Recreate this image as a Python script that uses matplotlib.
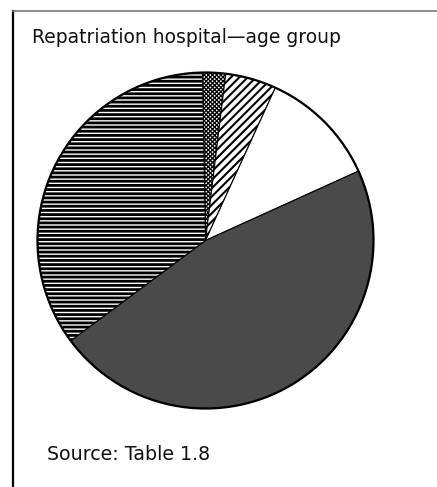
import matplotlib.pyplot as plt
from matplotlib.lines import Line2D
from matplotlib.patches import Circle

# age groups, clockwise from 12 o'clock (percent)
groups = ['group 1', 'group 2', 'group 3', 'group 4', 'group 5']
shares = [2.2, 4.9, 11.4, 46.6, 34.9]
fills = ['white', 'white', 'white', '#4a4a4a', 'white']
hatches = ['xxxxxxxx', '////', None, None, '----']
hatch_lw = [0.9, 1.5, 1.0, 1.0, 2.0]

title = 'Repatriation hospital\u2014age group'
source = 'Source: Table 1.8'

plt.rcParams['font.family'] = ['DejaVu Sans']
plt.rcParams['hatch.linewidth'] = 1.8

fig = plt.figure(figsize=(4.37, 4.87), dpi=100)

# frame: thick left rule, thin grey top rule
fig.add_artist(Line2D([13 / 437, 13 / 437], [0, 1 - 11 / 487],
                      transform=fig.transFigure, color='black', lw=1.6))
fig.add_artist(Line2D([13 / 437, 1], [1 - 11 / 487, 1 - 11 / 487],
                      transform=fig.transFigure, color='#777777', lw=1.2))

fig.text(32 / 437, 1 - 43 / 487, title, fontsize=13.5, color='#111111')
fig.text(47 / 437, 1 - 460 / 487, source, fontsize=13.7, color='#111111')

pad = 1.02
r = 168 * pad
ax = fig.add_axes([(205.5 - r) / 437, (487 - 240.5 - r) / 487,
                   2 * r / 437, 2 * r / 487])
wedges, _ = ax.pie(shares, colors=fills, startangle=91, counterclock=False,
                   wedgeprops=dict(edgecolor='black', linewidth=0.8))
for w, h, lw in zip(wedges, hatches, hatch_lw):
    if h:
        w.set_hatch(h)
        if hasattr(w, 'set_hatch_linewidth'):
            w.set_hatch_linewidth(lw)
ax.add_patch(Circle((0, 0), 1, fill=False, edgecolor='black', lw=1.6))
ax.set_xlim(-pad, pad)
ax.set_ylim(-pad, pad)
ax.set_aspect('equal')
ax.axis('off')

fig.savefig('out.png', dpi=100)
